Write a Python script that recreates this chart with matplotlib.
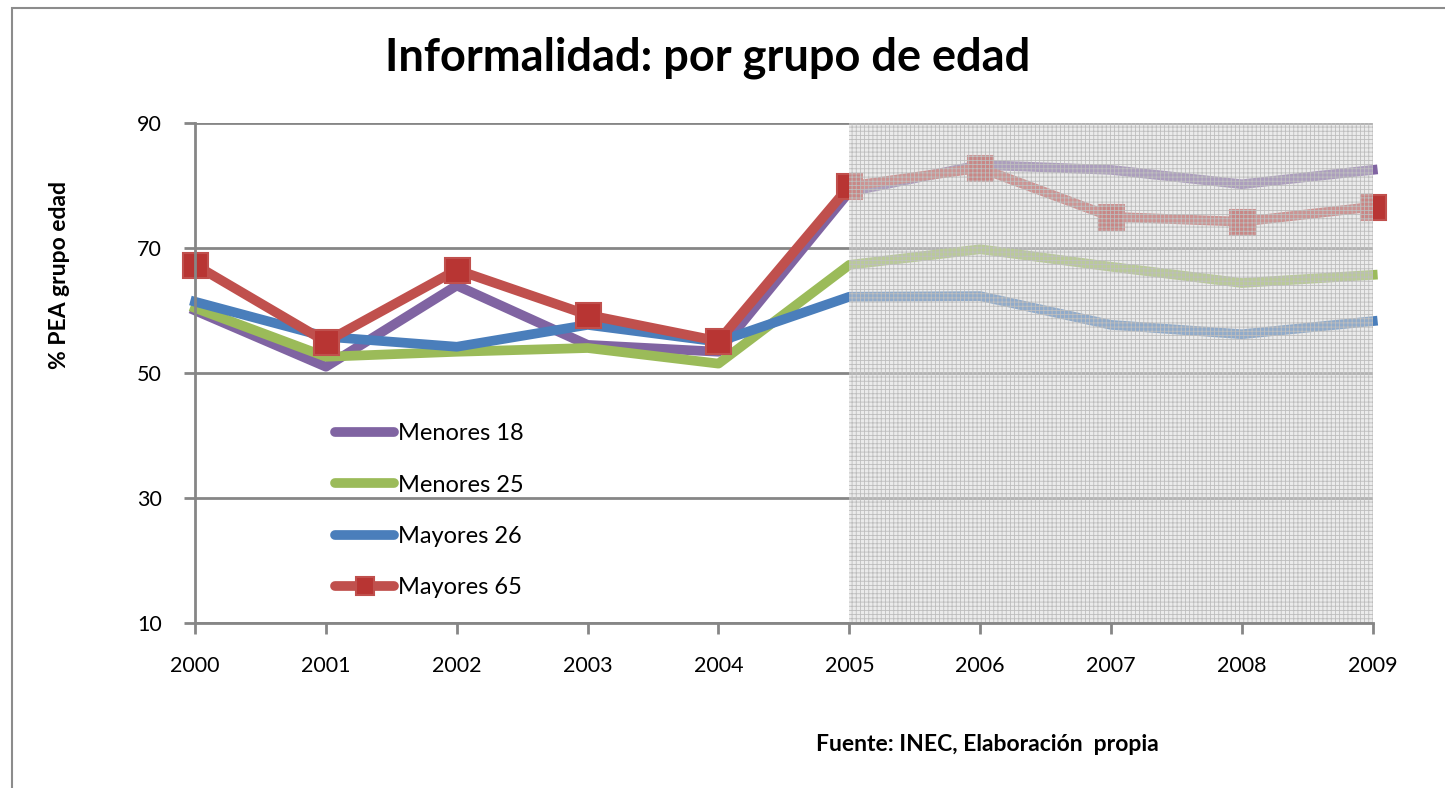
import numpy as np
import matplotlib
matplotlib.use("Agg")
import matplotlib.pyplot as plt
from matplotlib.patches import Rectangle

plt.rcParams['font.family'] = ['Lato', 'DejaVu Sans']
plt.rcParams['hatch.linewidth'] = 0.6

years = [2000, 2001, 2002, 2003, 2004, 2005, 2006, 2007, 2008, 2009]
menores_18 = [60.0, 51.0, 64.0, 54.5, 53.4, 79.0, 83.3, 82.5, 80.2, 82.5]
menores_25 = [60.4, 52.6, 53.4, 54.0, 51.5, 67.3, 69.8, 67.0, 64.4, 65.7]
mayores_26 = [61.4, 55.8, 54.2, 57.7, 55.0, 62.2, 62.3, 57.7, 56.2, 58.3]
mayores_65 = [67.3, 55.0, 66.5, 59.3, 55.1, 79.9, 82.8, 75.0, 74.2, 76.6]
yticks = [10, 30, 50, 70, 90]

fig = plt.figure(figsize=(14.45, 7.88), dpi=100)
ax = fig.add_axes([0.135, 0.2094, 0.815, 0.6345])

# outer frame (right and bottom run off the picture)
fig.patches.append(Rectangle((12/1445, -0.05), 1.2, 1 - 8/788 + 0.05,
                             transform=fig.transFigure, fill=False,
                             edgecolor='#8c8c8c', lw=1.5))

lw = 7
ax.plot(years, menores_18, color='#8064A2', lw=lw, label='Menores 18', zorder=3,
        clip_on=False)
ax.plot(years, menores_25, color='#9BBB59', lw=lw, label='Menores 25', zorder=3,
        clip_on=False)
ax.plot(years, mayores_26, color='#4A7EBB', lw=lw, label='Mayores 26', zorder=3,
        clip_on=False)
ax.plot(years, mayores_65, color='#C0504D', lw=lw, label='Mayores 65', zorder=4,
        marker='s', markersize=18, markerfacecolor='#B83533',
        markeredgecolor='#C0504D', markeredgewidth=1.5, clip_on=False)

# shaded period on top of the lines
ax.axvspan(2005, 2009, facecolor=(0.85, 0.85, 0.85, 0.5), edgecolor='#bdbdbd',
           hatch='++++', lw=0, zorder=5)

ax.set_xlim(2000, 2009)
ax.set_ylim(10, 90)
ax.set_xticks(years)
ax.set_yticks(yticks)
ax.grid(axis='y', color='#868686', lw=2, zorder=6)
ax.tick_params(axis='both', labelsize=15.5, color='#868686', width=2, length=8,
               direction='out')
ax.tick_params(axis='x', pad=16)
ax.tick_params(axis='y', pad=16)
for s in ['top', 'right']:
    ax.spines[s].set_visible(False)
for s in ['left', 'bottom']:
    ax.spines[s].set_color('#868686')
    ax.spines[s].set_linewidth(2)
    ax.spines[s].set_zorder(7)

ax.set_ylabel('% PEA grupo edad', fontsize=16.5, fontweight='bold')
ax.yaxis.set_label_coords(-0.106, 0.696)

leg = ax.legend(loc='upper left', bbox_to_anchor=(0.111, 0.418), frameon=False,
                fontsize=17, handlelength=2.5, labelspacing=1.28,
                handletextpad=0.15, borderaxespad=0, markerscale=0.75)
for h in leg.get_lines():
    h.set_solid_capstyle('round')

fig.text(0.49, 0.927, 'Informalidad: por grupo de edad', fontsize=32.5,
         fontweight='bold', ha='center', va='center')
fig.text(0.683, 0.0546, 'Fuente: INEC, Elaboración  propia', fontsize=16.5,
         fontweight='bold', ha='center', va='center')

fig.savefig('out.png', dpi=100)
